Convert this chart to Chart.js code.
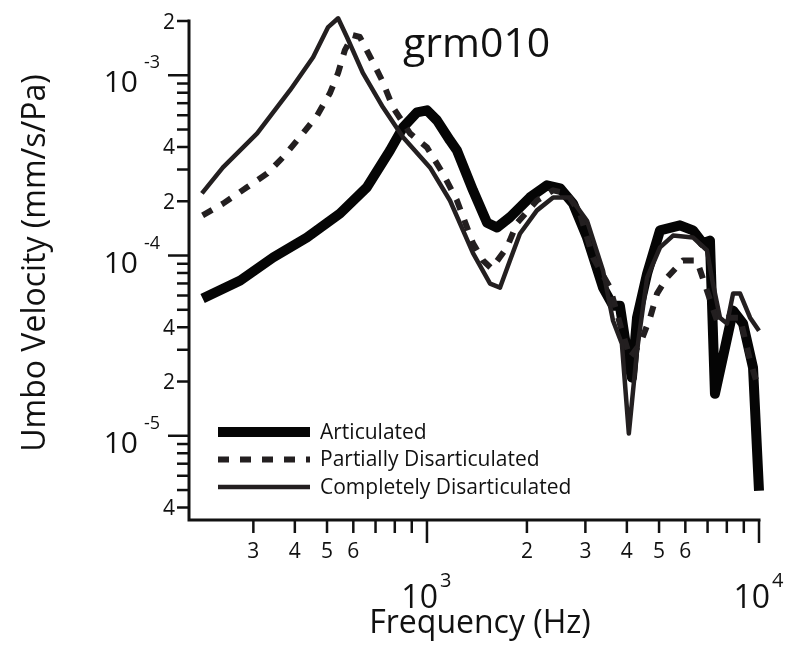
<!DOCTYPE html>
<html>
<head>
<meta charset="utf-8">
<title>grm010 umbo velocity</title>
<script src="https://cdn.jsdelivr.net/npm/chart.js@4.4.0/dist/chart.umd.min.js"></script>
<style>
  html, body { margin: 0; padding: 0; background: #fff; }
  #wrap { width: 800px; height: 655px; position: relative; }
</style>
</head>
<body>
<div id="wrap"><canvas id="umboChart"></canvas></div>
<script>
// frequency (Hz) and umbo velocity (mm/s/Pa)
const articulatedFreq = [211, 274, 344, 435, 547, 659, 774, 847, 933, 1000, 1072, 1173, 1231, 1376, 1517, 1625, 1778, 2042, 2298, 2517, 2754, 3034, 3390, 3634, 3811, 4027, 4143, 4292, 4603, 5035, 5781, 6324, 6776, 7117, 7368, 8354, 8954, 9594, 10000];
const articulatedVel = [5.77e-5, 7.27e-5, 9.75e-5, 1.26e-4, 1.71e-4, 2.39e-4, 3.83e-4, 5.14e-4, 6.23e-4, 6.39e-4, 5.62e-4, 4.35e-4, 3.83e-4, 2.30e-4, 1.52e-4, 1.43e-4, 1.63e-4, 2.10e-4, 2.45e-4, 2.36e-4, 1.94e-4, 1.26e-4, 6.64e-5, 5.27e-5, 5.27e-5, 2.71e-5, 2.10e-5, 4.52e-5, 7.94e-5, 1.38e-4, 1.47e-4, 1.38e-4, 1.17e-4, 1.21e-4, 1.71e-5, 4.95e-5, 4.19e-5, 2.39e-5, 4.95e-6];

const partialFreq = [211, 243, 287, 330, 368, 414, 467, 510, 540, 566, 598, 628, 683, 732, 790, 889, 1000, 1117, 1231, 1376, 1475, 1565, 1742, 1866, 2144, 2399, 2641, 2890, 3163, 3558, 3811, 4085, 4385, 4699, 4931, 5284, 5902, 6501, 6970, 7471, 8010, 8770, 9400, 9865];
const partialVel = [1.67e-4, 1.94e-4, 2.39e-4, 2.85e-4, 3.50e-4, 4.53e-4, 5.99e-4, 7.94e-4, 1.03e-3, 1.38e-3, 1.67e-3, 1.63e-3, 1.21e-3, 9.38e-4, 6.64e-4, 4.76e-4, 3.98e-4, 2.85e-4, 2.02e-4, 1.17e-4, 9.38e-5, 8.47e-5, 1.11e-4, 1.51e-4, 2.02e-4, 2.30e-4, 2.21e-4, 1.71e-4, 9.75e-5, 6.64e-5, 4.19e-5, 2.71e-5, 3.24e-5, 4.52e-5, 6.15e-5, 7.55e-5, 9.38e-5, 9.38e-5, 6.39e-5, 4.35e-5, 4.52e-5, 4.52e-5, 2.61e-5, 1.95e-5];

const completeFreq = [210, 243, 308, 387, 454, 504, 540, 574, 641, 737, 847, 1021, 1173, 1376, 1549, 1660, 1778, 1905, 2144, 2399, 2697, 3034, 3390, 3634, 3864, 4055, 4292, 4603, 5035, 5510, 6324, 6970, 7265, 7631, 8010, 8354, 8770, 9400, 10000];
const completeVel = [2.21e-4, 3.08e-4, 4.76e-4, 8.26e-4, 1.26e-3, 1.85e-3, 2.07e-3, 1.63e-3, 1.03e-3, 6.64e-4, 4.53e-4, 3.08e-4, 2.02e-4, 1.03e-4, 6.99e-5, 6.64e-5, 9.38e-5, 1.32e-4, 1.78e-4, 2.10e-4, 2.10e-4, 1.56e-4, 8.25e-5, 4.35e-5, 3.24e-5, 1.03e-5, 2.97e-5, 7.55e-5, 1.11e-4, 1.29e-4, 1.26e-4, 1.07e-4, 6.99e-5, 4.52e-5, 4.19e-5, 6.15e-5, 6.15e-5, 4.52e-5, 3.83e-5];

const seriesNames = ["Articulated", "Partially Disarticulated", "Completely Disarticulated"];

// axis ticks; labels with "^" are the decades (long ticks)
const xTicks = [300, 400, 500, 600, 700, 800, 900, 1000, 2000, 3000, 4000, 5000, 6000, 7000, 8000, 9000, 10000];
const xTickLabels = ["3", "4", "5", "6", "", "", "", "10^3", "2", "3", "4", "5", "6", "", "", "", "10^4"];
const yTicks = [4e-6, 5e-6, 6e-6, 7e-6, 8e-6, 9e-6, 1e-5, 2e-5, 3e-5, 4e-5, 5e-5, 6e-5, 7e-5, 8e-5, 9e-5, 1e-4, 2e-4, 3e-4, 4e-4, 5e-4, 6e-4, 7e-4, 8e-4, 9e-4, 1e-3, 2e-3];
const yTickLabels = ["4", "", "", "", "", "", "10^-5", "2", "", "4", "", "", "", "", "", "10^-4", "2", "", "4", "", "", "", "", "", "10^-3", "2"];

const FONT = "'Open Sans', 'Noto Sans', sans-serif";
const INK = "#111";

function toPoints(xs, ys) {
  return xs.map((f, i) => ({ x: f, y: ys[i] }));
}

// draws the axis lines, ticks, labels, titles and the legend
const figurePlugin = {
  id: "figure",
  afterDraw(chart) {
    const { ctx, chartArea: area, scales } = chart;
    const xs = scales.x, ys = scales.y;
    ctx.save();
    ctx.strokeStyle = INK;
    ctx.fillStyle = INK;

    ctx.lineWidth = 3;
    ctx.lineCap = "square";
    ctx.beginPath();
    ctx.moveTo(area.left, area.top);
    ctx.lineTo(area.left, area.bottom);
    ctx.lineTo(area.right, area.bottom);
    ctx.stroke();

    ctx.lineWidth = 2.5;
    ctx.lineCap = "butt";
    // x ticks
    xTicks.forEach((v, i) => {
      const px = xs.getPixelForValue(v);
      const lab = xTickLabels[i];
      const major = lab.indexOf("^") >= 0;
      ctx.beginPath();
      ctx.moveTo(px, area.bottom);
      ctx.lineTo(px, area.bottom + (major ? 23 : 13));
      ctx.stroke();
      if (!lab) return;
      if (major) {
        const parts = lab.split("^");
        ctx.font = "32px " + FONT;
        ctx.textAlign = "right";
        ctx.fillText(parts[0], px + 11, area.bottom + 88);
        ctx.font = "20px " + FONT;
        ctx.textAlign = "left";
        ctx.fillText(parts[1], px + 13, area.bottom + 67);
      } else {
        ctx.font = "21px " + FONT;
        ctx.textAlign = "center";
        ctx.fillText(lab, px, area.bottom + 38);
      }
    });

    // y ticks
    yTicks.forEach((v, i) => {
      const py = ys.getPixelForValue(v);
      const lab = yTickLabels[i];
      const major = lab.indexOf("^") >= 0;
      ctx.beginPath();
      ctx.moveTo(area.left - (major ? 21 : 12), py);
      ctx.lineTo(area.left, py);
      ctx.stroke();
      if (!lab) return;
      if (major) {
        const parts = lab.split("^");
        ctx.font = "30px " + FONT;
        ctx.textAlign = "right";
        ctx.fillText(parts[0], area.left - 51, py + 17);
        ctx.font = "18px " + FONT;
        ctx.textAlign = "left";
        ctx.fillText(parts[1], area.left - 45, py - 7);
      } else {
        ctx.font = "21px " + FONT;
        ctx.textAlign = "right";
        ctx.fillText(lab, area.left - 14, py + 7.5);
      }
    });

    // axis titles
    ctx.font = "32px " + FONT;
    ctx.textAlign = "center";
    ctx.fillText("Frequency (Hz)", 480, 633);
    ctx.save();
    ctx.translate(45, 263);
    ctx.rotate(-Math.PI / 2);
    ctx.fillText("Umbo Velocity (mm/s/Pa)", 0, 0);
    ctx.restore();

    // specimen name
    ctx.font = "41px " + FONT;
    ctx.textAlign = "left";
    ctx.fillText("grm010", 403, 57);

    // legend
    ctx.font = "21px " + FONT;
    chart.data.datasets.forEach((ds, i) => {
      const ly = 432 + i * 27.5;
      ctx.save();
      ctx.strokeStyle = ds.borderColor;
      ctx.lineWidth = ds.borderWidth;
      ctx.setLineDash(ds.borderDash || []);
      ctx.beginPath();
      ctx.moveTo(218, ly);
      ctx.lineTo(310, ly);
      ctx.stroke();
      ctx.restore();
      ctx.textAlign = "left";
      ctx.textBaseline = "middle";
      ctx.fillText(ds.label, 320, ly + 1);
      ctx.textBaseline = "alphabetic";
    });
    ctx.restore();
  }
};

const ctx = document.getElementById("umboChart").getContext("2d");

new Chart(ctx, {
  type: "line",
  data: {
    datasets: [
      {
        label: seriesNames[0],
        data: toPoints(articulatedFreq, articulatedVel),
        borderColor: "#050505",
        borderWidth: 10,
        order: 3
      },
      {
        label: seriesNames[1],
        data: toPoints(partialFreq, partialVel),
        borderColor: "#231f20",
        borderWidth: 6,
        borderDash: [11, 11],
        order: 2
      },
      {
        label: seriesNames[2],
        data: toPoints(completeFreq, completeVel),
        borderColor: "#231f20",
        borderWidth: 4.5,
        order: 1
      }
    ]
  },
  options: {
    responsive: true,
    maintainAspectRatio: false,
    animation: false,
    layout: {
      padding: { top: 21, right: 41, left: 0, bottom: 0 }
    },
    elements: {
      point: { radius: 0 },
      line: { tension: 0, borderJoinStyle: "round", fill: false }
    },
    datasets: {
      line: { clip: false }
    },
    plugins: {
      legend: { display: false },
      tooltip: { enabled: false }
    },
    scales: {
      x: {
        type: "logarithmic",
        min: 192,
        max: 10000,
        grid: { display: false },
        border: { display: false },
        ticks: { display: false },
        afterFit: (s) => { s.height = 135; }
      },
      y: {
        type: "logarithmic",
        min: 3.41e-6,
        max: 2e-3,
        grid: { display: false },
        border: { display: false },
        ticks: { display: false },
        afterFit: (s) => { s.width = 189; }
      }
    }
  },
  plugins: [figurePlugin]
});
</script>
</body>
</html>
